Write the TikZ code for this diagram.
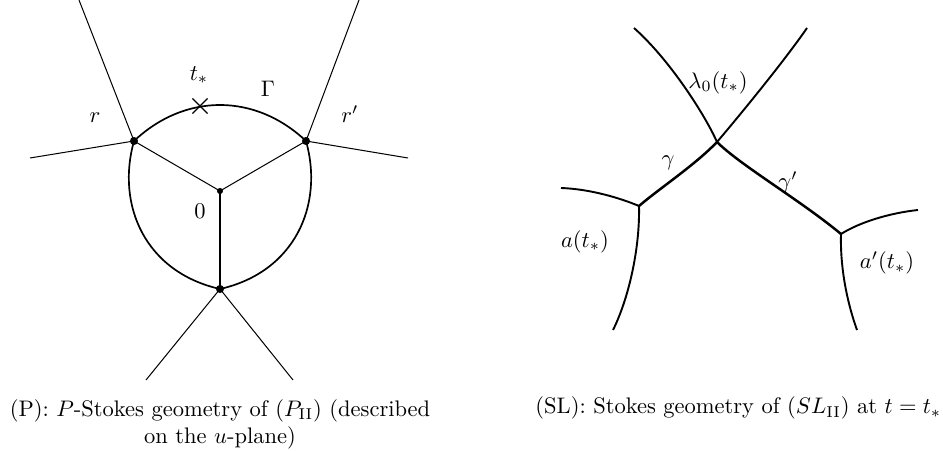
\documentclass[tikz,border=0pt]{standalone}
\usetikzlibrary{shapes.misc}
\begin{document}
\begin{tikzpicture}[x=0.4444pt,y=-0.4444pt,
  ray/.style={line width=0.45pt},
  gam/.style={line width=0.75pt},
  sto/.style={line width=0.85pt},
  sgam/.style={line width=1.1pt},
  bigdot/.style={circle,fill,inner sep=0pt,minimum size=3.6pt},
  smalldot/.style={circle,fill,inner sep=0pt,minimum size=2.7pt},
  tinydot/.style={circle,fill,inner sep=0pt,minimum size=1.2pt},
  lab/.style={inner sep=0pt}]
\useasboundingbox (0,0) rectangle (943,451);
% ---------- left panel ----------
\node[bigdot] (P1) at (134,141) {};
\node[bigdot] (P2) at (306,141) {};
\node[bigdot] (P3) at (220,289) {};
\node[smalldot] (O) at (220,191) {};
\coordinate (A1) at (79,0);
\coordinate (L1) at (30,158);
\coordinate (A2) at (359,0);
\coordinate (L2) at (408,158);
\coordinate (B1) at (146,380);
\coordinate (B2) at (293,380);
\draw[ray] (P1.center) -- (A1);
\draw[ray] (P1.center) -- (L1);
\draw[ray] (P2.center) -- (A2);
\draw[ray] (P2.center) -- (L2);
\draw[ray] (P3.center) -- (B1);
\draw[ray] (P3.center) -- (B2);
\draw[ray] (O.center) -- (P1.center);
\draw[ray] (O.center) -- (P2.center);
\draw[ray] (O.center) -- (P3.center);
\draw[gam] (P1.center) .. controls (185,93) and (255,93) .. (P2.center)
  .. controls (324,205) and (295,272) .. (P3.center)
  .. controls (145,272) and (116,205) .. (P1.center);
\node[cross out,draw,minimum size=6.2pt,inner sep=0pt,line width=0.5pt] (tx) at (200,106) {};
\node[lab] (tlab) at (199,75) {$t_*$};
\node[lab] (Glab) at (268,89) {$\Gamma$};
\node[lab] (rlab) at (95,118) {$r$};
\node[lab] (rplab) at (350,114) {$r'$};
\node[lab] (zlab) at (200,211) {$0$};
\node[inner sep=0pt,anchor=north,align=center] (capP) at (220,399)
  {(P): $P$-Stokes geometry of $(P_{\mathrm{II}})$ (described\\on the $u$-plane)};
% ---------- right panel ----------
\coordinate (X0) at (717,142);
\node[tinydot] (a) at (639,206) {};
\node[tinydot] (ap) at (841,234) {};
\coordinate (UL) at (634,28);
\coordinate (UR) at (807,28);
\coordinate (aL) at (561,188);
\coordinate (aD) at (613,330);
\coordinate (apR) at (918,210);
\coordinate (apD) at (857,330);
\draw[sto] (X0) .. controls (705,115) and (670,60) .. (UL);
\draw[sto] (X0) .. controls (740,115) and (785,60) .. (UR);
\draw[sgam] (X0) .. controls (695,165) and (660,188) .. (a.center);
\draw[sgam] (X0) .. controls (740,165) and (800,200) .. (ap.center);
\draw[sto] (a.center) .. controls (620,198) and (590,189) .. (aL);
\draw[sto] (a.center) .. controls (640,250) and (628,300) .. (aD);
\draw[sto] (ap.center) .. controls (860,222) and (890,213) .. (apR);
\draw[sto] (ap.center) .. controls (840,270) and (848,305) .. (apD);
\node[lab] (llab) at (718,83) {$\lambda_0(t_*)$};
\node[lab] (glab) at (668,163) {$\gamma$};
\node[lab] (gplab) at (788,182) {$\gamma'$};
\node[lab] (alab) at (585,242) {$a(t_*)$};
\node[lab] (aplab) at (887,263) {$a'(t_*)$};
\node[inner sep=0pt,anchor=base west] (capSL) at (535,414)
  {(SL): Stokes geometry of $(SL_{\mathrm{II}})$ at $t=t_*$};
\end{tikzpicture}
\end{document}
